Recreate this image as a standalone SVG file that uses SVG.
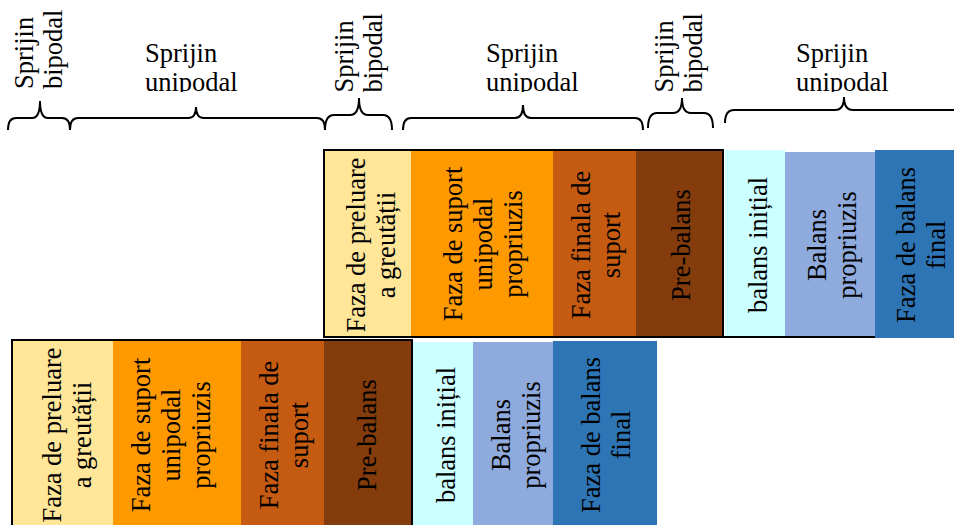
<svg xmlns="http://www.w3.org/2000/svg" width="954" height="525" viewBox="0 0 954 525">
<defs>
<style>
text{font-family:'Liberation Serif','DejaVu Serif','Times New Roman',serif;font-size:26.5px;fill:#000}
.lbl{text-anchor:start}
.ctr{text-anchor:middle}
.brace{fill:none;stroke:#000;stroke-width:2}
.box{fill:none;stroke:#000;stroke-width:2}
.y1{fill:#FFE699}.o1{fill:#FF9900}.b1{fill:#C55A11}.b2{fill:#843C0C}
.c1{fill:#CCFFFF}.c2{fill:#8FAADC}.c3{fill:#2E75B6}
</style>
<clipPath id="topclip"><rect x="0" y="0" width="954" height="92"/></clipPath>
</defs>
<rect width="954" height="525" fill="#fff"/>

<g id="labels" clip-path="url(#topclip)" font-family="Liberation Serif, DejaVu Serif, serif">
<g id="lbl-bi1"><text class="lbl" transform="translate(32.5,89) rotate(-90)"><tspan x="0" y="0">Sprijin</tspan><tspan x="0" y="29">bipodal</tspan></text></g>
<g id="lbl-uni1"><text class="lbl"><tspan x="145" y="62">Sprijin</tspan><tspan x="145" y="91">unipodal</tspan></text></g>
<g id="lbl-bi2"><text class="lbl" transform="translate(352.5,92.5) rotate(-90)"><tspan x="0" y="0">Sprijin</tspan><tspan x="0" y="29">bipodal</tspan></text></g>
<g id="lbl-uni2"><text class="lbl"><tspan x="486" y="62">Sprijin</tspan><tspan x="486" y="91">unipodal</tspan></text></g>
<g id="lbl-bi3"><text class="lbl" transform="translate(672.5,92.5) rotate(-90)"><tspan x="0" y="0">Sprijin</tspan><tspan x="0" y="29">bipodal</tspan></text></g>
<g id="lbl-uni3"><text class="lbl"><tspan x="796" y="62">Sprijin</tspan><tspan x="796" y="91">unipodal</tspan></text></g>
</g>

<g id="connectors">
<path class="brace" d="M8 130 Q8 118 16 118 L32 118 Q40 118 40 101 Q40 118 48 118 L62 118 Q70 118 70 130"/>
<path class="brace" d="M70 130 Q70 118 78 118 L188 118 Q196 118 196 107 Q196 118 204 118 L317 118 Q325 118 325 130"/>
<path class="brace" d="M325 130 Q325 115 334 115 L350 115 Q359 115 359 98 Q359 115 368 115 L383 115 Q392 115 392 130"/>
<path class="brace" d="M403 130 Q403 118 411 118 L515 118 Q523 118 523 105 Q523 118 531 118 L635 118 Q643 118 643 130"/>
<path class="brace" d="M648 128 Q648 113 657 113 L673 113 Q682 113 682 98 Q682 113 691 113 L704 113 Q713 113 713 128"/>
<path class="brace" d="M725 123 Q725 110 734 110 L835 110 Q844 110 844 97 Q844 110 853 110 L954 110 Q963 110 963 123"/>
</g>

<g id="top-row" font-family="Liberation Serif, DejaVu Serif, serif">
<g id="t1"><rect class="y1" x="325" y="151" width="86" height="186"/>
<text class="ctr" transform="translate(371,245) rotate(-90)"><tspan x="0" y="-6.5">Faza de preluare</tspan><tspan x="0" y="23.5">a greutății</tspan></text></g>
<g id="t2"><rect class="o1" x="411" y="151" width="142" height="186"/>
<text class="ctr" transform="translate(483,244) rotate(-90)"><tspan x="0" y="-21.5">Faza de suport</tspan><tspan x="0" y="8.5">unipodal</tspan><tspan x="0" y="38.5">propriuzis</tspan></text></g>
<g id="t3"><rect class="b1" x="553" y="151" width="83" height="186"/>
<text class="ctr" transform="translate(596,245) rotate(-90)"><tspan x="0" y="-6.5">Faza finala de</tspan><tspan x="0" y="23.5">suport</tspan></text></g>
<g id="t4"><rect class="b2" x="636" y="151" width="87" height="186"/>
<text class="ctr" transform="translate(681,245) rotate(-90)"><tspan x="0" y="8.5">Pre-balans</tspan></text></g>
<rect class="box" x="324" y="150" width="399" height="187"/>
<g id="t5"><rect class="c1" x="725" y="150" width="60" height="187"/>
<text class="ctr" transform="translate(758,245) rotate(-90)"><tspan x="0" y="8.5">balans inițial</tspan></text></g>
<g id="t6"><rect class="c2" x="785" y="152" width="90" height="185"/>
<text class="ctr" transform="translate(832,245) rotate(-90)"><tspan x="0" y="-6.5">Balans</tspan><tspan x="0" y="23.5">propriuzis</tspan></text></g>
<g id="t7"><rect class="c3" x="875" y="150" width="79" height="188"/>
<text class="ctr" transform="translate(921,245) rotate(-90)"><tspan x="0" y="-6.5">Faza de balans</tspan><tspan x="0" y="23.5">final</tspan></text></g>
<line x1="724" y1="337" x2="875" y2="337" stroke="#000" stroke-width="2"/>
</g>

<g id="bottom-row" font-family="Liberation Serif, DejaVu Serif, serif">
<g id="b1"><rect class="y1" x="13" y="341" width="100" height="184"/>
<text class="ctr" transform="translate(67,435) rotate(-90)"><tspan x="0" y="-6.5">Faza de preluare</tspan><tspan x="0" y="23.5">a greutății</tspan></text></g>
<g id="b2"><rect class="o1" x="113" y="341" width="128" height="184"/>
<text class="ctr" transform="translate(171,435) rotate(-90)"><tspan x="0" y="-21.5">Faza de suport</tspan><tspan x="0" y="8.5">unipodal</tspan><tspan x="0" y="38.5">propriuzis</tspan></text></g>
<g id="b3"><rect class="b1" x="241" y="341" width="83" height="184"/>
<text class="ctr" transform="translate(284,435) rotate(-90)"><tspan x="0" y="-6.5">Faza finala de</tspan><tspan x="0" y="23.5">suport</tspan></text></g>
<g id="b4"><rect class="b2" x="324" y="341" width="88" height="184"/>
<text class="ctr" transform="translate(367,435) rotate(-90)"><tspan x="0" y="8.5">Pre-balans</tspan></text></g>
<rect class="box" x="12" y="340" width="400" height="190"/>
<g id="b5"><rect class="c1" x="413" y="342" width="60" height="183"/>
<text class="ctr" transform="translate(446,435) rotate(-90)"><tspan x="0" y="8.5">balans inițial</tspan></text></g>
<g id="b6"><rect class="c2" x="473" y="342" width="80" height="183"/>
<text class="ctr" transform="translate(516,435) rotate(-90)"><tspan x="0" y="-6.5">Balans</tspan><tspan x="0" y="23.5">propriuzis</tspan></text></g>
<g id="b7"><rect class="c3" x="553" y="341" width="104" height="184"/>
<text class="ctr" transform="translate(606,435) rotate(-90)"><tspan x="0" y="-6.5">Faza de balans</tspan><tspan x="0" y="23.5">final</tspan></text></g>
</g>
</svg>
